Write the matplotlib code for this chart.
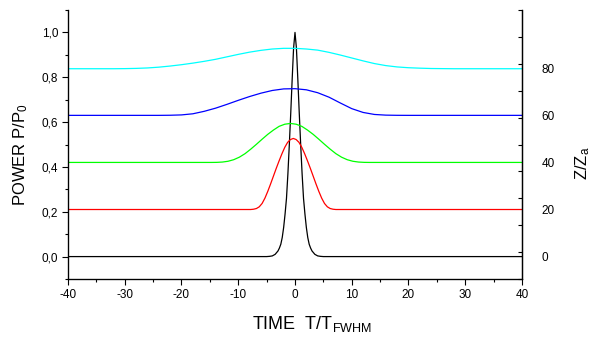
import matplotlib as mpl
mpl.use("Agg")
import matplotlib.pyplot as plt
from matplotlib.ticker import MultipleLocator, FixedLocator, FuncFormatter
import numpy as np

plt.rcParams["font.family"] = ["Liberation Sans", "DejaVu Sans"]
plt.rcParams["mathtext.fontset"] = "custom"
plt.rcParams["mathtext.rm"] = "Liberation Sans"
plt.rcParams["mathtext.it"] = "Liberation Sans"

# values: (time, power) for each propagation distance
black_t = [-40, -5, -4.5, -4, -3.5, -3, -2.75, -2.5, -2.25, -2, -1.75, -1.5, -1.25, -1, -0.75, -0.5,
           -0.25, 0, 0.25, 0.5, 0.75, 1, 1.25, 1.5, 1.75, 2, 2.25, 2.5, 2.75, 3, 3.5, 4, 4.5, 5, 40]
black_p = [0, 0, 0.001, 0.003, 0.01, 0.025, 0.038, 0.055, 0.085, 0.13, 0.19, 0.26, 0.37, 0.5, 0.64,
           0.79, 0.93, 1.0, 0.93, 0.79, 0.64, 0.5, 0.37, 0.26, 0.19, 0.13, 0.085, 0.055, 0.038,
           0.025, 0.01, 0.003, 0.001, 0, 0]

red_t = [-40, -8.3, -7.8, -7.3, -6.8, -6.3, -5.8, -5.3, -4.8, -4.3, -3.8, -3.3, -2.8, -2.3, -1.8,
         -1.3, -0.8, -0.3, 0.2, 0.7, 1.2, 1.7, 2.2, 2.7, 3.2, 3.7, 4.2, 4.7, 5.2, 5.7, 6.2, 6.7,
         7.2, 7.7, 40]
red_p = [0.21, 0.21, 0.21, 0.2113, 0.2144, 0.222, 0.2369, 0.2607, 0.2908, 0.3241, 0.359, 0.3939,
         0.4271, 0.4588, 0.4874, 0.5096, 0.5222, 0.527, 0.5222, 0.5096, 0.4874, 0.4588, 0.4271,
         0.3939, 0.359, 0.3241, 0.2908, 0.2607, 0.2369, 0.222, 0.2144, 0.2113, 0.21, 0.21, 0.21]

green_t = [-40, -14.8, -13.8, -12.8, -11.8, -10.8, -9.8, -8.8, -7.8, -6.8, -5.8, -4.8, -3.8, -2.8,
           -1.8, -0.8, 0.2, 1.2, 2.2, 3.2, 4.2, 5.2, 6.2, 7.2, 8.2, 9.2, 10.2, 11.2, 12.2, 13.2, 40]
green_p = [0.42, 0.42, 0.4203, 0.4217, 0.4252, 0.4322, 0.4435, 0.4592, 0.4792, 0.5009, 0.5235,
           0.5453, 0.5644, 0.581, 0.5905, 0.594, 0.5905, 0.581, 0.5644, 0.5453, 0.5235, 0.5009,
           0.4792, 0.4592, 0.4435, 0.4322, 0.4252, 0.4217, 0.4203, 0.42, 0.42]

blue_t = [-40, -24, -22, -20, -18, -16, -14, -12, -10, -8, -6, -4, -2, 0, 2, 4, 6, 8, 10, 12, 14,
          16, 18, 20, 40]
blue_p = [0.63, 0.63, 0.6305, 0.632, 0.637, 0.648, 0.662, 0.679, 0.697, 0.714, 0.729, 0.741, 0.748,
          0.749, 0.744, 0.731, 0.711, 0.685, 0.66, 0.643, 0.634, 0.631, 0.6302, 0.63, 0.63]

cyan_t = [-40, -32, -30, -28, -26, -24, -22, -20, -18, -16, -14, -12, -10, -8, -6, -4, -2, 0, 2, 4,
          6, 8, 10, 12, 14, 16, 18, 20, 22, 24, 26, 28, 40]
cyan_p = [0.838, 0.838, 0.8385, 0.8395, 0.8415, 0.845, 0.85, 0.856, 0.863, 0.871, 0.88, 0.891,
          0.902, 0.912, 0.92, 0.926, 0.929, 0.929, 0.926, 0.921, 0.911, 0.899, 0.886, 0.873, 0.861,
          0.852, 0.846, 0.8425, 0.8405, 0.839, 0.8385, 0.838, 0.838]

z_labels = [0, 20, 40, 60, 80]

series = [
    (black_t, black_p, "black"),
    (red_t, red_p, "#ff0000"),
    (green_t, green_p, "#00ff00"),
    (blue_t, blue_p, "#0000ff"),
    (cyan_t, cyan_p, "#00ffff"),
]

fig = plt.figure(figsize=(5.96, 3.40), dpi=100)
ax = fig.add_axes([68 / 596, 61 / 340, 454 / 596, 269 / 340])

for t, p, c in series:
    ax.plot(t, p, color=c, lw=0.9)

ax.set_xlim(-40, 40)
ax.set_ylim(-0.1, 1.1)
ax.xaxis.set_major_locator(MultipleLocator(10))
ax.xaxis.set_minor_locator(MultipleLocator(5))
ax.yaxis.set_major_locator(MultipleLocator(0.2))
ax.yaxis.set_minor_locator(MultipleLocator(0.1))
ax.yaxis.set_major_formatter(FuncFormatter(lambda v, pos: f"{v:.1f}".replace(".", ",")))
ax.xaxis.set_major_formatter(FuncFormatter(lambda v, pos: f"{v:.0f}"))
ax.tick_params(which="both", direction="out", labelsize=8.5, width=0.8, pad=3)
ax.tick_params(which="major", length=4)
ax.tick_params(which="minor", length=2.5)
ax.spines["top"].set_visible(False)
for s in ["left", "bottom", "right"]:
    ax.spines[s].set_linewidth(0.9)

ax.set_xlabel(r"TIME  T/T$_{\mathregular{FWHM}}$", fontsize=13)
ax.xaxis.set_label_coords(0.537, -0.13)
ax.set_ylabel(r"POWER P/P$_{\mathregular{0}}$", fontsize=12)
ax.yaxis.set_label_coords(-0.084, 0.46)

# right axis: labels sit on each curve's baseline
ax2 = ax.twinx()
ax2.set_ylim(ax.get_ylim())
ax2.spines["top"].set_visible(False)
ax2.spines["right"].set_linewidth(0.9)
ax2.yaxis.set_major_locator(FixedLocator([p[0] for t, p, c in series]))
ax2.set_yticklabels([str(z) for z in z_labels])
ax2.yaxis.set_minor_locator(FixedLocator(np.linspace(-0.1, 1.1, 11)))
ax2.tick_params(which="major", length=0, pad=14, labelsize=8.5)
ax2.tick_params(which="minor", direction="in", length=3, width=0.8)
ax2.set_ylabel(r"Z/Z$_{\mathregular{a}}$", fontsize=12, rotation=90)
ax2.yaxis.set_label_coords(1.112, 0.43)

fig.savefig("out.png", dpi=100)
